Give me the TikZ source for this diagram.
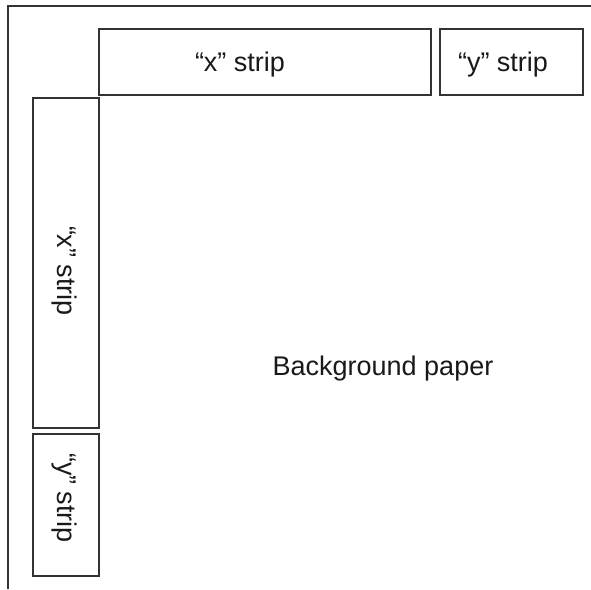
\documentclass[tikz,border=0pt]{standalone}
\usepackage{fontspec}
\setmainfont{Liberation Sans}
\begin{document}
\begin{tikzpicture}[x=1pt,y=-1pt,
  edge/.style={draw=black!80,line width=1.7pt},
  lbl/.style={font=\fontsize{27}{31}\selectfont,text=black!90,inner sep=0pt,anchor=base},
]
\useasboundingbox (0,0) rectangle (591,589);
% sheet edge
\coordinate (sb) at (8,589);
\coordinate (sc) at (8,6);
\coordinate (sr) at (591,6);
\draw[edge] (sb) -- (sc) -- (sr);
% strips along the top
\draw[edge] (99,29) rectangle (431,95);
\draw[edge] (440,29) rectangle (583,95);
% strips down the left side
\draw[edge] (33,98) rectangle (99,428);
\draw[edge] (33,434) rectangle (99,576);
% labels; the side ones read downwards
\node[lbl] (xt) at (240,71) {“x” strip};
\node[lbl] (yt) at (503,71) {“y” strip};
\node[lbl,rotate=-90] (xl) at (57,271) {“x” strip};
\node[lbl,rotate=-90] (yl) at (57,498) {“y” strip};
\node[lbl] (bg) at (383,375) {Background paper};
\end{tikzpicture}
\end{document}
